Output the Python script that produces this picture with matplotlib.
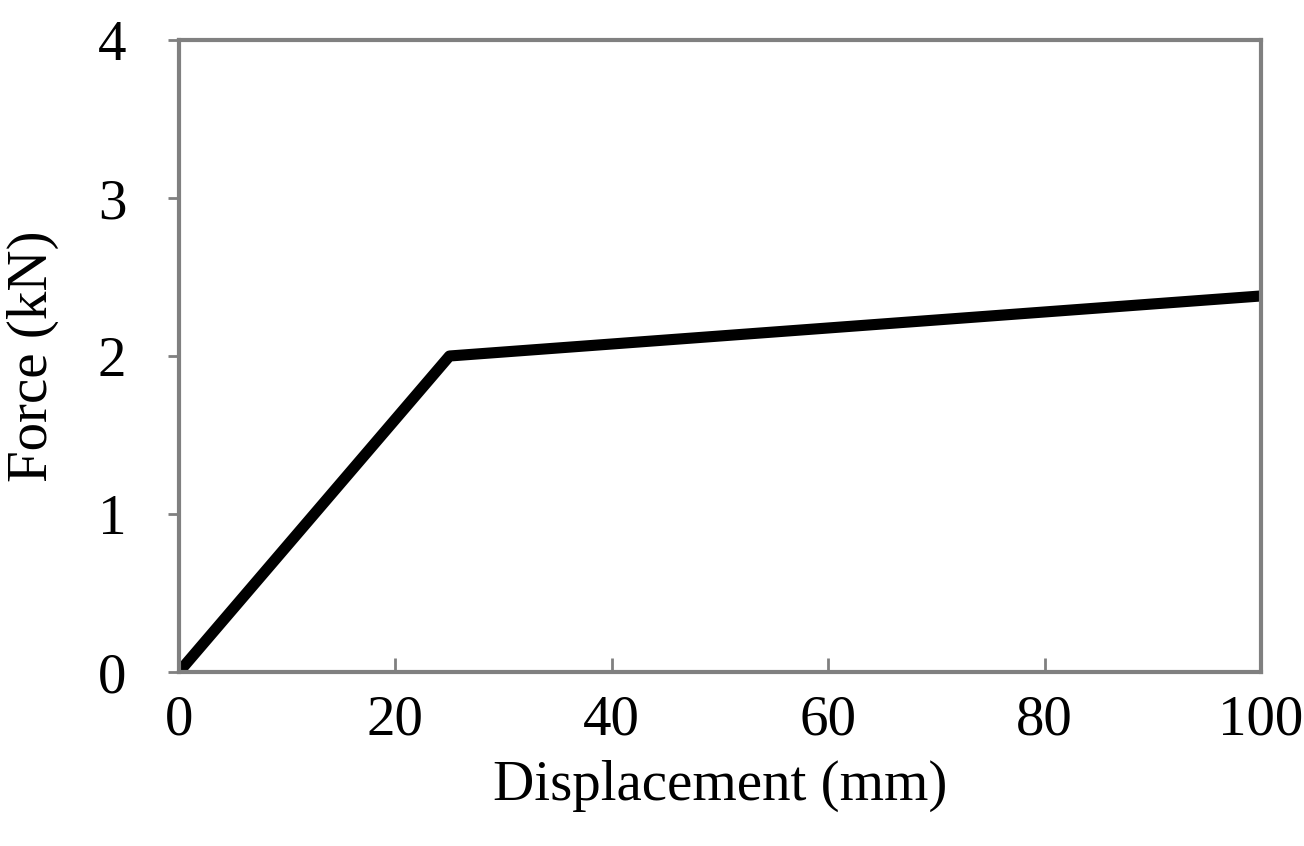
import matplotlib
matplotlib.use("Agg")
import matplotlib.pyplot as plt

disp = [0, 25, 100]
force = [0, 2.0, 2.38]

plt.rcParams['font.family'] = ['Liberation Serif', 'DejaVu Serif']
fig = plt.figure(figsize=(13.04, 8.46), dpi=100)
ax = fig.add_axes([179/1304, 1-672/846, (1261-179)/1304, (672-40)/846])
ax.plot(disp, force, color='black', lw=8, solid_capstyle='butt')
ax.set_xlim(0, 100)
ax.set_ylim(0, 4)
ax.set_xticks([0, 20, 40, 60, 80, 100])
ax.set_yticks([0, 1, 2, 3, 4])
for s in ax.spines.values():
    s.set_color('#808080')
    s.set_linewidth(3)
ax.tick_params(axis='x', direction='in', length=10, width=2, color='#808080', labelsize=41, pad=16)
ax.tick_params(axis='y', direction='out', length=8, width=2, color='#808080', labelsize=41, pad=30)
ax.set_xlabel('Displacement (mm)', fontsize=41, labelpad=10)
ax.set_ylabel('Force (kN)', fontsize=41, labelpad=28)
fig.savefig('out.png', dpi=100)
